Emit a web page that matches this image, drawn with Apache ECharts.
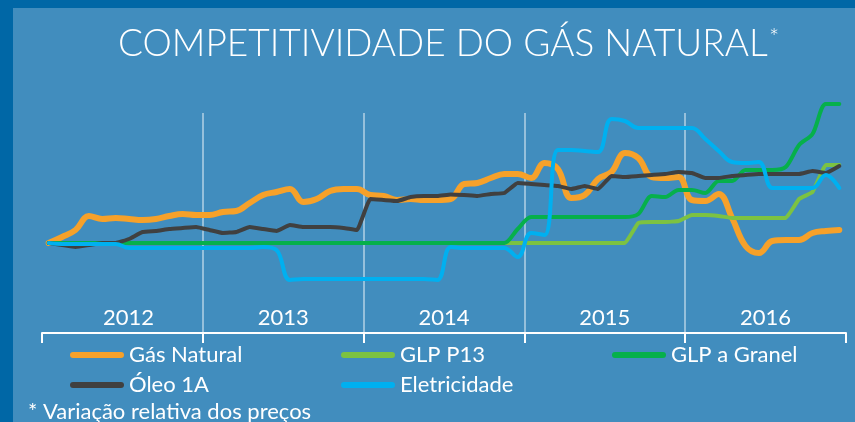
<!DOCTYPE html>
<html><head><meta charset="utf-8">
<script src="https://cdn.jsdelivr.net/npm/echarts@6/dist/echarts.min.js"></script>
<style>html,body{margin:0;padding:0;background:#0067a6;} #c{width:855px;height:422px;}</style>
</head><body><div id="c"></div>
<script>
// Tick labels (years) and monthly categories
const years = ['2012', '2013', '2014', '2015', '2016'];
const monthNums = ['01','02','03','04','05','06','07','08','09','10','11','12'];
const months = [];
years.forEach(function (y) { monthNums.forEach(function (m) { months.push(y + '-' + m); }); });

// Series values (relative price variation)
const gasNatural = [0,3,6.5,13.5,12,12.5,12,11.5,12,13.5, 14.5,14,14,15.5,16,20,24,25.5,27,20.5, 22,26,27,27,24,23.5,21.5,22,21.5,21.5, 22,29.5,30,32.5,34.5,34.5,32.5,40,37,22.5, 24,32,35.5,45,42.5,33,32.5,33,21.5,21, 24.5,12.5,-1.5,-5,1,1.5,1.5,5,6,6.5];
const glpP13 = [0,0,0,0,0,0,0,0,0,0, 0,0,0,0,0,0,0,0,0,0, 0,0,0,0,0,0,0,0,0,0, 0,0,0,0,0,0,0,0,0,0, 0,0,0,0,10,10.5,10.5,11,14,14, 13.5,12.5,12.5,12.5,12.5,12.5,22,25.5,39,39];
const glpGranel = [0,0,0,0,0,0,0,0,0,0, 0,0,0,0,0,0,0,0,0,0, 0,0,0,0,0,0,0,0,0,0, 0,0,0,0,0,7,13,13,13,13, 13,13,13,13,14.5,23.5,23,26.5,26.5,25, 31,31,36.5,36.5,36.5,38,49,54.5,69.5,69.5];
const oleo1A = [0,-1,-2,-1,0,0,2,5.5,6,7, 7.5,8,6.5,5,5.5,8,7,6,9,8, 8,8,7.5,6.5,22,21.5,21,23,23.5,23.5, 24.3,24,23.5,24.5,25,30,29.5,29,28.5,27, 28.5,27,33.5,33,33.5,34,34.5,35.5,35,32.5, 32.5,33.5,34,34.5,34.5,34.5,34.5,36,35,38.5];
const eletricidade = [0,-0.5,-0.5,-0.5,-0.5,-0.5,-2.5,-2.5,-2.5,-2.5, -2.5,-2.5,-2.5,-2.5,-2.5,-2.5,-2,-3.5,-18.5,-18, -18,-18,-18,-18,-18,-18,-18,-18,-18,-18.5, -2,-2.5,-2.5,-2.5,-2.5,-7,5,4,46.5,46.5, 46,45.5,62,61,57.5,57.5,57.5,57.5,57.5,52, 46,40.5,40,40.5,27.5,27.5,27.5,27.5,34,27.5];

const FONT = 'Lato, "Open Sans", sans-serif';
const seriesDefs = [
  { name: 'Gás Natural', data: gasNatural, color: '#f6a12a', width: 6, smooth: 0.4 },
  { name: 'GLP P13', data: glpP13, color: '#7cc242', width: 4, smooth: 0.1 },
  { name: 'GLP a Granel', data: glpGranel, color: '#06b04b', width: 4, smooth: 0.3 },
  { name: 'Óleo 1A', data: oleo1A, color: '#404040', width: 4, smooth: 0.1 },
  { name: 'Eletricidade', data: eletricidade, color: '#00b0f0', width: 4, smooth: 0.4 }
];
const legendPos = [[70, 344], [341, 344], [612, 344], [70, 374], [341, 374]];
const capsule = 'path://M3,0H51A3,3,0,0,1,51,6H3A3,3,0,0,1,3,0Z';

const chart = echarts.init(document.getElementById('c'), null, { renderer: 'canvas' });
chart.setOption({
  backgroundColor: '#0067a6',
  animation: false,
  graphic: [
    { type: 'rect', shape: { x: 13, y: 8, width: 842, height: 414 }, style: { fill: '#418dbe' }, z: -10, silent: true },
    { type: 'text', x: 118, y: 44, style: { text: 'COMPETITIVIDADE DO GÁS NATURAL', fill: '#ffffff', font: '300 37px ' + FONT, textAlign: 'left', textVerticalAlign: 'middle' } },
    { type: 'text', x: 769, y: 38, style: { text: '*', fill: '#ffffff', font: '300 24px ' + FONT, textAlign: 'left', textVerticalAlign: 'middle' } },
    { type: 'text', x: 28, y: 412, style: { text: '* Variação relativa dos preços', fill: '#ffffff', font: '22px ' + FONT, textAlign: 'left', textVerticalAlign: 'middle' } }
  ],
  legend: seriesDefs.map(function (s, k) {
    return {
      data: [s.name], left: legendPos[k][0], top: legendPos[k][1], padding: 0,
      itemWidth: 54, itemHeight: 6, icon: capsule, selectedMode: false,
      textStyle: { color: '#ffffff', fontSize: 22, fontFamily: FONT }
    };
  }),
  grid: { left: 42, right: 9, top: 113, height: 220 },
  xAxis: [
    {
      type: 'category', data: years, boundaryGap: true, position: 'bottom',
      axisLine: { onZero: false, lineStyle: { color: '#ffffff', width: 2 } },
      axisTick: { show: true, length: 10, lineStyle: { color: '#ffffff', width: 2 } },
      axisLabel: {
        inside: true, color: '#ffffff', fontSize: 22, fontFamily: FONT, margin: 4,
        formatter: function (v, i) { return i === 0 ? '{first|' + v + '}' : v; },
        rich: { first: { padding: [0, 0, 0, 12], color: '#ffffff', fontSize: 22, fontFamily: FONT } }
      },
      splitLine: { show: true, showMinLine: false, showMaxLine: false, lineStyle: { color: 'rgba(255,255,255,0.45)', width: 2 } }
    },
    { type: 'category', data: months, boundaryGap: true, show: false, position: 'bottom', axisLine: { onZero: false } }
  ],
  yAxis: { type: 'value', min: -45, max: 65, show: false, splitLine: { show: false } },
  series: seriesDefs.map(function (s) {
    return {
      name: s.name, type: 'line', xAxisIndex: 1, data: s.data, color: s.color,
      symbol: 'none', smooth: s.smooth, clip: false,
      lineStyle: { color: s.color, width: s.width, cap: 'round', join: 'round' }
    };
  })
});
</script></body></html>
